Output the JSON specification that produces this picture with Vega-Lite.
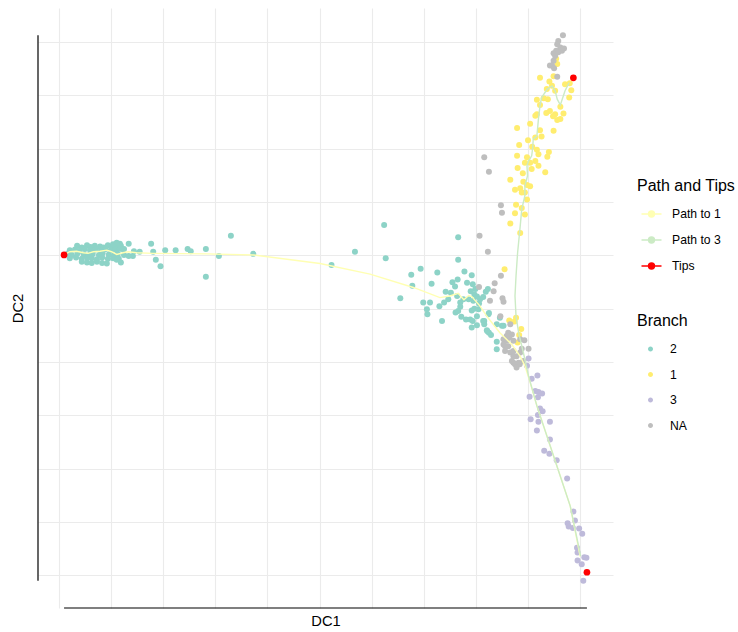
{
"$schema": "https://vega.github.io/schema/vega-lite/v6.json",
"width": 575, "height": 600,
"autosize": {"type": "none"},
"padding": {"left": 38, "top": 8, "right": 125, "bottom": 24},
"background": "white",
"config": {"font": "Liberation Sans", "view": {"stroke": null}},
"datasets": {
"cells": [
{"DC1":0.35,"DC2":6.18,"Branch":"2"},{"DC1":0.44,"DC2":6.15,"Branch":"2"},{"DC1":0.54,"DC2":6.19,"Branch":"2"},{"DC1":0.61,"DC2":6.16,"Branch":"2"},{"DC1":0.69,"DC2":6.18,"Branch":"2"},{"DC1":0.79,"DC2":6.17,"Branch":"2"},{"DC1":0.86,"DC2":6.15,"Branch":"2"},{"DC1":0.94,"DC2":6.19,"Branch":"2"},{"DC1":1.02,"DC2":6.17,"Branch":"2"},{"DC1":1.10,"DC2":6.20,"Branch":"2"},{"DC1":1.17,"DC2":6.22,"Branch":"2"},{"DC1":1.04,"DC2":6.21,"Branch":"2"},
{"DC1":0.21,"DC2":6.10,"Branch":"2"},{"DC1":0.31,"DC2":6.11,"Branch":"2"},{"DC1":0.40,"DC2":6.09,"Branch":"2"},{"DC1":0.50,"DC2":6.12,"Branch":"2"},{"DC1":0.60,"DC2":6.10,"Branch":"2"},{"DC1":0.71,"DC2":6.11,"Branch":"2"},{"DC1":0.81,"DC2":6.09,"Branch":"2"},{"DC1":0.90,"DC2":6.12,"Branch":"2"},{"DC1":1.00,"DC2":6.10,"Branch":"2"},{"DC1":1.09,"DC2":6.11,"Branch":"2"},{"DC1":1.17,"DC2":6.13,"Branch":"2"},{"DC1":1.25,"DC2":6.12,"Branch":"2"},
{"DC1":0.17,"DC2":6.03,"Branch":"2"},{"DC1":0.25,"DC2":6.01,"Branch":"2"},{"DC1":0.36,"DC2":6.04,"Branch":"2"},{"DC1":0.48,"DC2":6.02,"Branch":"2"},{"DC1":0.56,"DC2":6.00,"Branch":"2"},{"DC1":0.65,"DC2":6.03,"Branch":"2"},{"DC1":0.77,"DC2":6.01,"Branch":"2"},{"DC1":0.84,"DC2":6.04,"Branch":"2"},{"DC1":0.96,"DC2":6.02,"Branch":"2"},{"DC1":1.06,"DC2":6.00,"Branch":"2"},{"DC1":1.13,"DC2":6.03,"Branch":"2"},{"DC1":1.25,"DC2":6.01,"Branch":"2"},
{"DC1":0.21,"DC2":5.95,"Branch":"2"},{"DC1":0.33,"DC2":5.96,"Branch":"2"},{"DC1":0.44,"DC2":5.94,"Branch":"2"},{"DC1":0.54,"DC2":5.96,"Branch":"2"},{"DC1":0.63,"DC2":5.95,"Branch":"2"},{"DC1":0.73,"DC2":5.93,"Branch":"2"},{"DC1":0.83,"DC2":5.96,"Branch":"2"},{"DC1":0.94,"DC2":5.94,"Branch":"2"},{"DC1":1.04,"DC2":5.95,"Branch":"2"},{"DC1":1.15,"DC2":5.94,"Branch":"2"},
{"DC1":0.44,"DC2":5.88,"Branch":"2"},{"DC1":0.54,"DC2":5.87,"Branch":"2"},{"DC1":0.63,"DC2":5.86,"Branch":"2"},{"DC1":0.73,"DC2":5.88,"Branch":"2"},{"DC1":0.83,"DC2":5.86,"Branch":"2"},{"DC1":0.92,"DC2":5.85,"Branch":"2"},
{"DC1":1.19,"DC2":5.87,"Branch":"2"},{"DC1":1.11,"DC2":5.92,"Branch":"2"},{"DC1":1.34,"DC2":5.99,"Branch":"2"},{"DC1":1.42,"DC2":5.99,"Branch":"2"},{"DC1":1.44,"DC2":6.08,"Branch":"2"},{"DC1":1.55,"DC2":6.07,"Branch":"2"},{"DC1":1.34,"DC2":6.22,"Branch":"2"},{"DC1":1.19,"DC2":6.18,"Branch":"2"},{"DC1":1.21,"DC2":6.12,"Branch":"2"},{"DC1":1.11,"DC2":6.24,"Branch":"2"},
{"DC1":1.77,"DC2":6.22,"Branch":"2"},{"DC1":1.81,"DC2":6.07,"Branch":"2"},{"DC1":1.86,"DC2":5.92,"Branch":"2"},{"DC1":1.95,"DC2":5.80,"Branch":"2"},{"DC1":2.04,"DC2":6.10,"Branch":"2"},{"DC1":2.24,"DC2":6.10,"Branch":"2"},{"DC1":2.47,"DC2":6.12,"Branch":"2"},{"DC1":2.53,"DC2":6.08,"Branch":"2"},{"DC1":2.82,"DC2":6.12,"Branch":"2"},{"DC1":2.82,"DC2":5.60,"Branch":"2"},{"DC1":3.07,"DC2":5.99,"Branch":"2"},{"DC1":3.30,"DC2":6.37,"Branch":"2"},{"DC1":3.73,"DC2":6.03,"Branch":"2"},
{"DC1":5.23,"DC2":5.82,"Branch":"2"},{"DC1":5.68,"DC2":6.07,"Branch":"2"},{"DC1":6.24,"DC2":6.57,"Branch":"2"},{"DC1":6.27,"DC2":5.95,"Branch":"2"},{"DC1":7.66,"DC2":6.34,"Branch":"2"},{"DC1":7.66,"DC2":5.92,"Branch":"2"},{"DC1":6.76,"DC2":5.64,"Branch":"2"},{"DC1":6.94,"DC2":5.75,"Branch":"2"},{"DC1":7.26,"DC2":5.68,"Branch":"2"},{"DC1":6.78,"DC2":5.43,"Branch":"2"},{"DC1":7.15,"DC2":5.47,"Branch":"2"},{"DC1":6.55,"DC2":5.20,"Branch":"2"},{"DC1":6.99,"DC2":5.12,"Branch":"2"},{"DC1":7.12,"DC2":5.12,"Branch":"2"},{"DC1":7.06,"DC2":4.99,"Branch":"2"},{"DC1":7.07,"DC2":4.90,"Branch":"2"},{"DC1":7.30,"DC2":5.05,"Branch":"2"},{"DC1":7.35,"DC2":4.77,"Branch":"2"},{"DC1":7.42,"DC2":5.32,"Branch":"2"},{"DC1":7.39,"DC2":5.12,"Branch":"2"},{"DC1":7.47,"DC2":5.18,"Branch":"2"},{"DC1":7.55,"DC2":5.50,"Branch":"2"},{"DC1":7.65,"DC2":5.55,"Branch":"2"},{"DC1":7.60,"DC2":5.42,"Branch":"2"},{"DC1":7.52,"DC2":5.30,"Branch":"2"},{"DC1":7.64,"DC2":5.24,"Branch":"2"},{"DC1":7.78,"DC2":5.70,"Branch":"2"},{"DC1":7.92,"DC2":5.63,"Branch":"2"},{"DC1":7.83,"DC2":5.49,"Branch":"2"},{"DC1":7.94,"DC2":5.46,"Branch":"2"},{"DC1":7.99,"DC2":5.37,"Branch":"2"},{"DC1":7.90,"DC2":5.33,"Branch":"2"},{"DC1":8.02,"DC2":5.23,"Branch":"2"},{"DC1":8.08,"DC2":5.18,"Branch":"2"},{"DC1":7.95,"DC2":5.15,"Branch":"2"},{"DC1":7.86,"DC2":5.18,"Branch":"2"},{"DC1":7.97,"DC2":5.27,"Branch":"2"},{"DC1":8.06,"DC2":5.10,"Branch":"2"},{"DC1":8.14,"DC2":5.22,"Branch":"2"},{"DC1":8.19,"DC2":5.32,"Branch":"2"},{"DC1":8.23,"DC2":5.37,"Branch":"2"},{"DC1":7.70,"DC2":5.12,"Branch":"2"},{"DC1":7.70,"DC2":5.04,"Branch":"2"},{"DC1":7.76,"DC2":5.18,"Branch":"2"},{"DC1":7.61,"DC2":4.93,"Branch":"2"},{"DC1":7.66,"DC2":4.96,"Branch":"2"},{"DC1":7.72,"DC2":4.85,"Branch":"2"},{"DC1":7.81,"DC2":4.80,"Branch":"2"},{"DC1":7.89,"DC2":4.80,"Branch":"2"},{"DC1":7.92,"DC2":4.97,"Branch":"2"},{"DC1":7.97,"DC2":5.00,"Branch":"2"},{"DC1":8.05,"DC2":4.99,"Branch":"2"},{"DC1":8.16,"DC2":4.77,"Branch":"2"},{"DC1":8.16,"DC2":4.71,"Branch":"2"},{"DC1":8.02,"DC2":4.69,"Branch":"2"},{"DC1":7.92,"DC2":4.65,"Branch":"2"},{"DC1":8.21,"DC2":4.60,"Branch":"2"},{"DC1":8.25,"DC2":4.55,"Branch":"2"},{"DC1":8.29,"DC2":4.51,"Branch":"2"},{"DC1":8.25,"DC2":4.92,"Branch":"2"},{"DC1":8.40,"DC2":4.71,"Branch":"2"},{"DC1":8.50,"DC2":4.68,"Branch":"2"},{"DC1":8.46,"DC2":4.83,"Branch":"2"},{"DC1":8.40,"DC2":4.38,"Branch":"2"},{"DC1":8.40,"DC2":4.24,"Branch":"2"},{"DC1":8.02,"DC2":4.86,"Branch":"2"},{"DC1":7.94,"DC2":4.77,"Branch":"2"},{"DC1":8.14,"DC2":4.77,"Branch":"2"},{"DC1":8.24,"DC2":4.90,"Branch":"2"},{"DC1":8.22,"DC2":4.58,"Branch":"2"},{"DC1":8.53,"DC2":4.68,"Branch":"2"},
{"DC1":9.54,"DC2":9.69,"Branch":"1"},{"DC1":9.56,"DC2":9.59,"Branch":"1"},{"DC1":9.23,"DC2":9.33,"Branch":"1"},{"DC1":9.49,"DC2":9.36,"Branch":"1"},{"DC1":9.41,"DC2":9.26,"Branch":"1"},{"DC1":9.36,"DC2":9.12,"Branch":"1"},{"DC1":9.46,"DC2":9.18,"Branch":"1"},{"DC1":9.52,"DC2":9.09,"Branch":"1"},{"DC1":9.71,"DC2":9.21,"Branch":"1"},{"DC1":9.80,"DC2":9.23,"Branch":"1"},{"DC1":9.83,"DC2":9.10,"Branch":"1"},{"DC1":9.79,"DC2":8.96,"Branch":"1"},{"DC1":9.17,"DC2":8.92,"Branch":"1"},{"DC1":9.30,"DC2":8.95,"Branch":"1"},{"DC1":9.38,"DC2":8.93,"Branch":"1"},{"DC1":9.23,"DC2":8.82,"Branch":"1"},{"DC1":9.62,"DC2":8.79,"Branch":"1"},{"DC1":9.68,"DC2":8.66,"Branch":"1"},{"DC1":9.42,"DC2":8.71,"Branch":"1"},{"DC1":9.52,"DC2":8.65,"Branch":"1"},{"DC1":9.35,"DC2":8.67,"Branch":"1"},{"DC1":9.48,"DC2":8.61,"Branch":"1"},{"DC1":9.56,"DC2":8.54,"Branch":"1"},{"DC1":9.62,"DC2":8.56,"Branch":"1"},{"DC1":9.17,"DC2":8.65,"Branch":"1"},{"DC1":9.14,"DC2":8.62,"Branch":"1"},{"DC1":9.04,"DC2":8.47,"Branch":"1"},{"DC1":8.79,"DC2":8.39,"Branch":"1"},{"DC1":9.23,"DC2":8.35,"Branch":"1"},{"DC1":9.49,"DC2":8.34,"Branch":"1"},{"DC1":9.26,"DC2":8.23,"Branch":"1"},{"DC1":9.14,"DC2":8.21,"Branch":"1"},{"DC1":9.00,"DC2":8.16,"Branch":"1"},{"DC1":9.08,"DC2":8.04,"Branch":"1"},{"DC1":8.83,"DC2":8.07,"Branch":"1"},{"DC1":9.17,"DC2":7.98,"Branch":"1"},{"DC1":9.20,"DC2":7.90,"Branch":"1"},{"DC1":9.40,"DC2":7.94,"Branch":"1"},{"DC1":9.37,"DC2":7.85,"Branch":"1"},{"DC1":8.79,"DC2":7.87,"Branch":"1"},{"DC1":8.98,"DC2":7.84,"Branch":"1"},{"DC1":8.94,"DC2":7.74,"Branch":"1"},{"DC1":9.04,"DC2":7.74,"Branch":"1"},{"DC1":9.14,"DC2":7.77,"Branch":"1"},{"DC1":9.20,"DC2":7.68,"Branch":"1"},{"DC1":9.07,"DC2":7.62,"Branch":"1"},{"DC1":8.80,"DC2":7.64,"Branch":"1"},{"DC1":8.90,"DC2":7.54,"Branch":"1"},{"DC1":9.33,"DC2":7.56,"Branch":"1"},{"DC1":8.66,"DC2":7.42,"Branch":"1"},{"DC1":8.91,"DC2":7.38,"Branch":"1"},{"DC1":8.98,"DC2":7.32,"Branch":"1"},{"DC1":9.04,"DC2":7.30,"Branch":"1"},{"DC1":8.75,"DC2":7.23,"Branch":"1"},{"DC1":8.85,"DC2":7.26,"Branch":"1"},{"DC1":8.88,"DC2":7.18,"Branch":"1"},{"DC1":8.94,"DC2":7.18,"Branch":"1"},{"DC1":8.98,"DC2":7.05,"Branch":"1"},{"DC1":8.77,"DC2":6.95,"Branch":"1"},{"DC1":8.88,"DC2":6.89,"Branch":"1"},{"DC1":8.75,"DC2":6.79,"Branch":"1"},{"DC1":8.94,"DC2":6.77,"Branch":"1"},{"DC1":8.66,"DC2":6.60,"Branch":"1"},{"DC1":8.85,"DC2":6.42,"Branch":"1"},{"DC1":8.55,"DC2":5.74,"Branch":"1"},{"DC1":8.64,"DC2":4.78,"Branch":"1"},{"DC1":8.77,"DC2":4.83,"Branch":"1"},{"DC1":8.74,"DC2":4.76,"Branch":"1"},{"DC1":8.87,"DC2":4.62,"Branch":"1"},{"DC1":8.83,"DC2":4.51,"Branch":"1"},{"DC1":8.80,"DC2":4.37,"Branch":"1"},
{"DC1":9.01,"DC2":4.07,"Branch":"3"},{"DC1":9.18,"DC2":3.75,"Branch":"3"},{"DC1":9.07,"DC2":3.69,"Branch":"3"},{"DC1":9.14,"DC2":3.46,"Branch":"3"},{"DC1":9.20,"DC2":3.44,"Branch":"3"},{"DC1":9.27,"DC2":3.41,"Branch":"3"},{"DC1":9.03,"DC2":3.35,"Branch":"3"},{"DC1":9.19,"DC2":3.34,"Branch":"3"},{"DC1":9.23,"DC2":3.13,"Branch":"3"},{"DC1":9.28,"DC2":3.08,"Branch":"3"},{"DC1":9.19,"DC2":3.01,"Branch":"3"},{"DC1":9.20,"DC2":2.88,"Branch":"3"},{"DC1":9.42,"DC2":2.88,"Branch":"3"},{"DC1":9.05,"DC2":2.93,"Branch":"3"},{"DC1":9.17,"DC2":2.72,"Branch":"3"},{"DC1":9.42,"DC2":2.55,"Branch":"3"},{"DC1":9.31,"DC2":2.34,"Branch":"3"},{"DC1":9.41,"DC2":2.28,"Branch":"3"},{"DC1":9.55,"DC2":2.16,"Branch":"3"},{"DC1":9.75,"DC2":1.82,"Branch":"3"},{"DC1":9.87,"DC2":1.20,"Branch":"3"},{"DC1":9.90,"DC2":1.03,"Branch":"3"},{"DC1":9.76,"DC2":0.98,"Branch":"3"},{"DC1":9.78,"DC2":0.92,"Branch":"3"},{"DC1":9.86,"DC2":0.89,"Branch":"3"},{"DC1":9.98,"DC2":0.88,"Branch":"3"},{"DC1":10.04,"DC2":0.78,"Branch":"3"},{"DC1":9.94,"DC2":0.52,"Branch":"3"},{"DC1":9.95,"DC2":0.43,"Branch":"3"},{"DC1":10.08,"DC2":0.34,"Branch":"3"},{"DC1":10.12,"DC2":0.33,"Branch":"3"},{"DC1":9.95,"DC2":0.28,"Branch":"3"},{"DC1":10.03,"DC2":0.21,"Branch":"3"},{"DC1":10.06,"DC2":-0.10,"Branch":"3"},{"DC1":8.98,"DC2":3.93,"Branch":"3"},
{"DC1":8.50,"DC2":6.80,"Branch":"NA"},{"DC1":8.07,"DC2":6.37,"Branch":"NA"},{"DC1":8.23,"DC2":6.07,"Branch":"NA"},{"DC1":8.48,"DC2":5.62,"Branch":"NA"},{"DC1":8.36,"DC2":5.48,"Branch":"NA"},{"DC1":8.34,"DC2":5.33,"Branch":"NA"},{"DC1":8.06,"DC2":5.41,"Branch":"NA"},{"DC1":8.27,"DC2":5.15,"Branch":"NA"},{"DC1":8.51,"DC2":5.20,"Branch":"NA"},{"DC1":8.53,"DC2":5.13,"Branch":"NA"},{"DC1":8.47,"DC2":4.86,"Branch":"NA"},{"DC1":8.66,"DC2":4.71,"Branch":"NA"},{"DC1":8.62,"DC2":4.55,"Branch":"NA"},{"DC1":8.69,"DC2":4.52,"Branch":"NA"},{"DC1":8.64,"DC2":4.46,"Branch":"NA"},{"DC1":8.59,"DC2":4.40,"Branch":"NA"},{"DC1":8.72,"DC2":4.40,"Branch":"NA"},{"DC1":8.56,"DC2":4.30,"Branch":"NA"},{"DC1":8.85,"DC2":4.43,"Branch":"NA"},{"DC1":8.93,"DC2":4.41,"Branch":"NA"},{"DC1":8.56,"DC2":4.21,"Branch":"NA"},{"DC1":8.69,"DC2":4.18,"Branch":"NA"},{"DC1":8.78,"DC2":4.11,"Branch":"NA"},{"DC1":8.85,"DC2":4.18,"Branch":"NA"},{"DC1":9.01,"DC2":4.25,"Branch":"NA"},{"DC1":8.72,"DC2":3.99,"Branch":"NA"},{"DC1":8.84,"DC2":3.96,"Branch":"NA"},{"DC1":8.91,"DC2":4.02,"Branch":"NA"},{"DC1":8.59,"DC2":4.49,"Branch":"NA"},{"DC1":8.53,"DC2":4.43,"Branch":"NA"},{"DC1":8.53,"DC2":4.33,"Branch":"NA"},{"DC1":8.62,"DC2":4.30,"Branch":"NA"},{"DC1":8.66,"DC2":4.18,"Branch":"NA"},{"DC1":8.72,"DC2":4.21,"Branch":"NA"},{"DC1":8.69,"DC2":4.02,"Branch":"NA"},{"DC1":8.75,"DC2":3.96,"Branch":"NA"},{"DC1":8.82,"DC2":3.99,"Branch":"NA"},{"DC1":8.78,"DC2":3.90,"Branch":"NA"},{"DC1":8.88,"DC2":4.25,"Branch":"NA"},{"DC1":8.72,"DC2":4.11,"Branch":"NA"},{"DC1":8.16,"DC2":7.84,"Branch":"NA"},{"DC1":8.25,"DC2":7.57,"Branch":"NA"},{"DC1":8.48,"DC2":6.94,"Branch":"NA"},
{"DC1":9.67,"DC2":10.13,"Branch":"NA"},{"DC1":9.58,"DC2":10.02,"Branch":"NA"},{"DC1":9.56,"DC2":9.96,"Branch":"NA"},{"DC1":9.62,"DC2":9.90,"Branch":"NA"},{"DC1":9.69,"DC2":9.88,"Branch":"NA"},{"DC1":9.65,"DC2":9.84,"Branch":"NA"},{"DC1":9.54,"DC2":9.84,"Branch":"NA"},{"DC1":9.49,"DC2":9.79,"Branch":"NA"},{"DC1":9.58,"DC2":9.81,"Branch":"NA"},{"DC1":9.52,"DC2":9.74,"Branch":"NA"},{"DC1":9.49,"DC2":9.65,"Branch":"NA"},{"DC1":9.46,"DC2":9.56,"Branch":"NA"},{"DC1":9.42,"DC2":9.56,"Branch":"NA"},{"DC1":9.50,"DC2":9.51,"Branch":"NA"},{"DC1":9.56,"DC2":9.35,"Branch":"NA"}
],
"paths": [
{"Path":"Path to 1","i":1,"DC1":0.10,"DC2":6.01},{"Path":"Path to 1","i":2,"DC1":0.21,"DC2":6.07},{"Path":"Path to 1","i":3,"DC1":0.34,"DC2":6.08},{"Path":"Path to 1","i":4,"DC1":0.47,"DC2":6.05},{"Path":"Path to 1","i":5,"DC1":0.56,"DC2":6.04},{"Path":"Path to 1","i":6,"DC1":0.66,"DC2":6.07},{"Path":"Path to 1","i":7,"DC1":0.79,"DC2":6.08},{"Path":"Path to 1","i":8,"DC1":0.92,"DC2":6.10},{"Path":"Path to 1","i":9,"DC1":1.01,"DC2":6.07},{"Path":"Path to 1","i":10,"DC1":1.11,"DC2":6.02},{"Path":"Path to 1","i":11,"DC1":1.23,"DC2":6.05},{"Path":"Path to 1","i":12,"DC1":1.33,"DC2":6.07},{"Path":"Path to 1","i":13,"DC1":1.49,"DC2":6.05},{"Path":"Path to 1","i":14,"DC1":1.81,"DC2":6.04},{"Path":"Path to 1","i":15,"DC1":2.83,"DC2":6.03},{"Path":"Path to 1","i":16,"DC1":3.73,"DC2":6.01},{"Path":"Path to 1","i":17,"DC1":5.01,"DC2":5.85},{"Path":"Path to 1","i":18,"DC1":5.97,"DC2":5.65},{"Path":"Path to 1","i":19,"DC1":6.80,"DC2":5.40},{"Path":"Path to 1","i":20,"DC1":7.31,"DC2":5.21},{"Path":"Path to 1","i":21,"DC1":7.50,"DC2":5.24},{"Path":"Path to 1","i":22,"DC1":7.66,"DC2":5.29},{"Path":"Path to 1","i":23,"DC1":7.73,"DC2":5.21},{"Path":"Path to 1","i":24,"DC1":7.77,"DC2":5.17},{"Path":"Path to 1","i":25,"DC1":7.86,"DC2":5.25},{"Path":"Path to 1","i":26,"DC1":7.92,"DC2":5.23},{"Path":"Path to 1","i":27,"DC1":8.08,"DC2":5.05},{"Path":"Path to 1","i":28,"DC1":8.21,"DC2":4.86},{"Path":"Path to 1","i":29,"DC1":8.46,"DC2":4.55},{"Path":"Path to 1","i":30,"DC1":8.69,"DC2":4.33},{"Path":"Path to 1","i":31,"DC1":8.85,"DC2":4.11},{"Path":"Path to 1","i":32,"DC1":8.94,"DC2":3.93},{"Path":"Path to 1","i":33,"DC1":9.04,"DC2":3.62},{"Path":"Path to 1","i":34,"DC1":9.17,"DC2":3.18},{"Path":"Path to 1","i":35,"DC1":9.49,"DC2":2.24},{"Path":"Path to 1","i":36,"DC1":9.81,"DC2":1.30},{"Path":"Path to 1","i":37,"DC1":10.00,"DC2":0.36},
{"Path":"Path to 3","i":1,"DC1":9.79,"DC2":9.24},{"Path":"Path to 3","i":2,"DC1":9.71,"DC2":9.09},{"Path":"Path to 3","i":3,"DC1":9.62,"DC2":8.82},{"Path":"Path to 3","i":4,"DC1":9.56,"DC2":8.93},{"Path":"Path to 3","i":5,"DC1":9.52,"DC2":9.09},{"Path":"Path to 3","i":6,"DC1":9.46,"DC2":9.18},{"Path":"Path to 3","i":7,"DC1":9.37,"DC2":9.12},{"Path":"Path to 3","i":8,"DC1":9.26,"DC2":8.96},{"Path":"Path to 3","i":9,"DC1":9.23,"DC2":8.81},{"Path":"Path to 3","i":10,"DC1":9.20,"DC2":8.56},{"Path":"Path to 3","i":11,"DC1":9.17,"DC2":8.24},{"Path":"Path to 3","i":12,"DC1":9.10,"DC2":8.18},{"Path":"Path to 3","i":13,"DC1":9.09,"DC2":8.02},{"Path":"Path to 3","i":14,"DC1":9.07,"DC2":7.87},{"Path":"Path to 3","i":15,"DC1":9.01,"DC2":7.77},{"Path":"Path to 3","i":16,"DC1":8.98,"DC2":7.68},{"Path":"Path to 3","i":17,"DC1":8.99,"DC2":7.49},{"Path":"Path to 3","i":18,"DC1":8.94,"DC2":7.30},{"Path":"Path to 3","i":19,"DC1":8.94,"DC2":7.12},{"Path":"Path to 3","i":20,"DC1":8.88,"DC2":6.87},{"Path":"Path to 3","i":21,"DC1":8.85,"DC2":6.55},{"Path":"Path to 3","i":22,"DC1":8.80,"DC2":6.05},{"Path":"Path to 3","i":23,"DC1":8.77,"DC2":5.62},{"Path":"Path to 3","i":24,"DC1":8.75,"DC2":5.24},{"Path":"Path to 3","i":25,"DC1":8.77,"DC2":4.86},{"Path":"Path to 3","i":26,"DC1":8.82,"DC2":4.55},{"Path":"Path to 3","i":27,"DC1":8.91,"DC2":4.18},{"Path":"Path to 3","i":28,"DC1":9.01,"DC2":3.74},{"Path":"Path to 3","i":29,"DC1":9.17,"DC2":3.18},{"Path":"Path to 3","i":30,"DC1":9.49,"DC2":2.24},{"Path":"Path to 3","i":31,"DC1":9.81,"DC2":1.30},{"Path":"Path to 3","i":32,"DC1":10.01,"DC2":0.36}
],
"tips": [
{"Path":"Tips","DC1":0.10,"DC2":6.01},{"Path":"Tips","DC1":9.87,"DC2":9.33},{"Path":"Tips","DC1":10.13,"DC2":0.06}
],
"frame": [{"x0":0.10,"x1":10.13,"y0":-0.10,"y1":10.13,"xedge":-0.40,"yedge":-0.61}]
},
"resolve": {"scale": {"color": "independent"}, "legend": {"color": "independent"}},
"layer": [
{
"data": {"name": "cells"},
"mark": {"type": "point", "filled": true, "opacity": 1, "size": 36, "strokeWidth": 0},
"encoding": {
"x": {"field": "DC1", "type": "quantitative", "scale": {"domain": [-0.40, 10.63], "nice": false, "zero": false},
"axis": {"title": "DC1", "values": [0,1,2,3,4,5,6,7,8,9,10], "labels": false, "ticks": false, "domain": false, "grid": true, "gridColor": "#EBEBEB", "gridWidth": 1.1, "titleFontSize": 14.67, "titleFontWeight": "normal", "titleColor": "black", "titlePadding": 5}},
"y": {"field": "DC2", "type": "quantitative", "scale": {"domain": [-0.61, 10.64], "nice": false, "zero": false},
"axis": {"title": "DC2", "values": [0,1,2,3,4,5,6,7,8,9,10], "labels": false, "ticks": false, "domain": false, "grid": true, "gridColor": "#EBEBEB", "gridWidth": 1.1, "titleFontSize": 14.67, "titleFontWeight": "normal", "titleColor": "black", "titlePadding": 13}},
"color": {"field": "Branch", "type": "nominal", "scale": {"domain": ["2","1","3","NA"], "range": ["#8DD3C7","#FFED6F","#BEBADA","#BEBEBE"]},
"legend": {"title": "Branch", "orient": "none", "legendX": 599, "legendY": 305, "padding": 0,
"symbolType": "M-0.25,0A0.25,0.25,0,1,1,0.25,0A0.25,0.25,0,1,1,-0.25,0", "symbolSize": 400, "symbolStrokeWidth": 0, "symbolOffset": 3.5,
"labelFontSize": 12.2, "labelColor": "black", "labelOffset": 9.5, "titleFontSize": 16, "titleFontWeight": "normal", "titleColor": "black", "titlePadding": 10, "rowPadding": 8.5}}
}
},
{
"data": {"name": "frame"},
"layer": [
{"mark": {"type": "rule", "color": "black", "strokeWidth": 1.2, "clip": false},
"encoding": {"x": {"field": "x0", "type": "quantitative"}, "x2": {"field": "x1"}, "y": {"field": "yedge", "type": "quantitative"}}},
{"mark": {"type": "rule", "color": "black", "strokeWidth": 1.2, "clip": false},
"encoding": {"y": {"field": "y0", "type": "quantitative"}, "y2": {"field": "y1"}, "x": {"field": "xedge", "type": "quantitative"}}}
]
},
{
"layer": [
{
"data": {"name": "paths"},
"mark": {"type": "line", "strokeWidth": 1.4, "opacity": 1},
"encoding": {
"x": {"field": "DC1", "type": "quantitative"},
"y": {"field": "DC2", "type": "quantitative"},
"order": {"field": "i", "type": "quantitative"},
"detail": {"field": "Path", "type": "nominal"},
"color": {"field": "Path", "type": "nominal", "scale": {"domain": ["Path to 1","Path to 3","Tips"], "range": ["#FFFFB3","#CCEBC5","#FF0000"]},
"legend": {"title": "Path and Tips", "orient": "none", "legendX": 599, "legendY": 170, "padding": 0,
"symbolType": "M-1,0L1,0M-0.3,0A0.3,0.3,0,1,1,0.3,0A0.3,0.3,0,1,1,-0.3,0M-0.15,0A0.15,0.15,0,1,1,0.15,0A0.15,0.15,0,1,1,-0.15,0", "symbolSize": 400, "symbolStrokeWidth": 1.4, "symbolOffset": 3.5,
"labelFontSize": 12.2, "labelColor": "black", "labelOffset": 9.5, "titleFontSize": 16, "titleFontWeight": "normal", "titleColor": "black", "titlePadding": 9, "rowPadding": 8}}
}
},
{
"data": {"name": "tips"},
"mark": {"type": "point", "filled": true, "opacity": 1, "size": 45, "strokeWidth": 0},
"encoding": {
"x": {"field": "DC1", "type": "quantitative"},
"y": {"field": "DC2", "type": "quantitative"},
"color": {"field": "Path", "type": "nominal"}
}
}
]
}
]
}
